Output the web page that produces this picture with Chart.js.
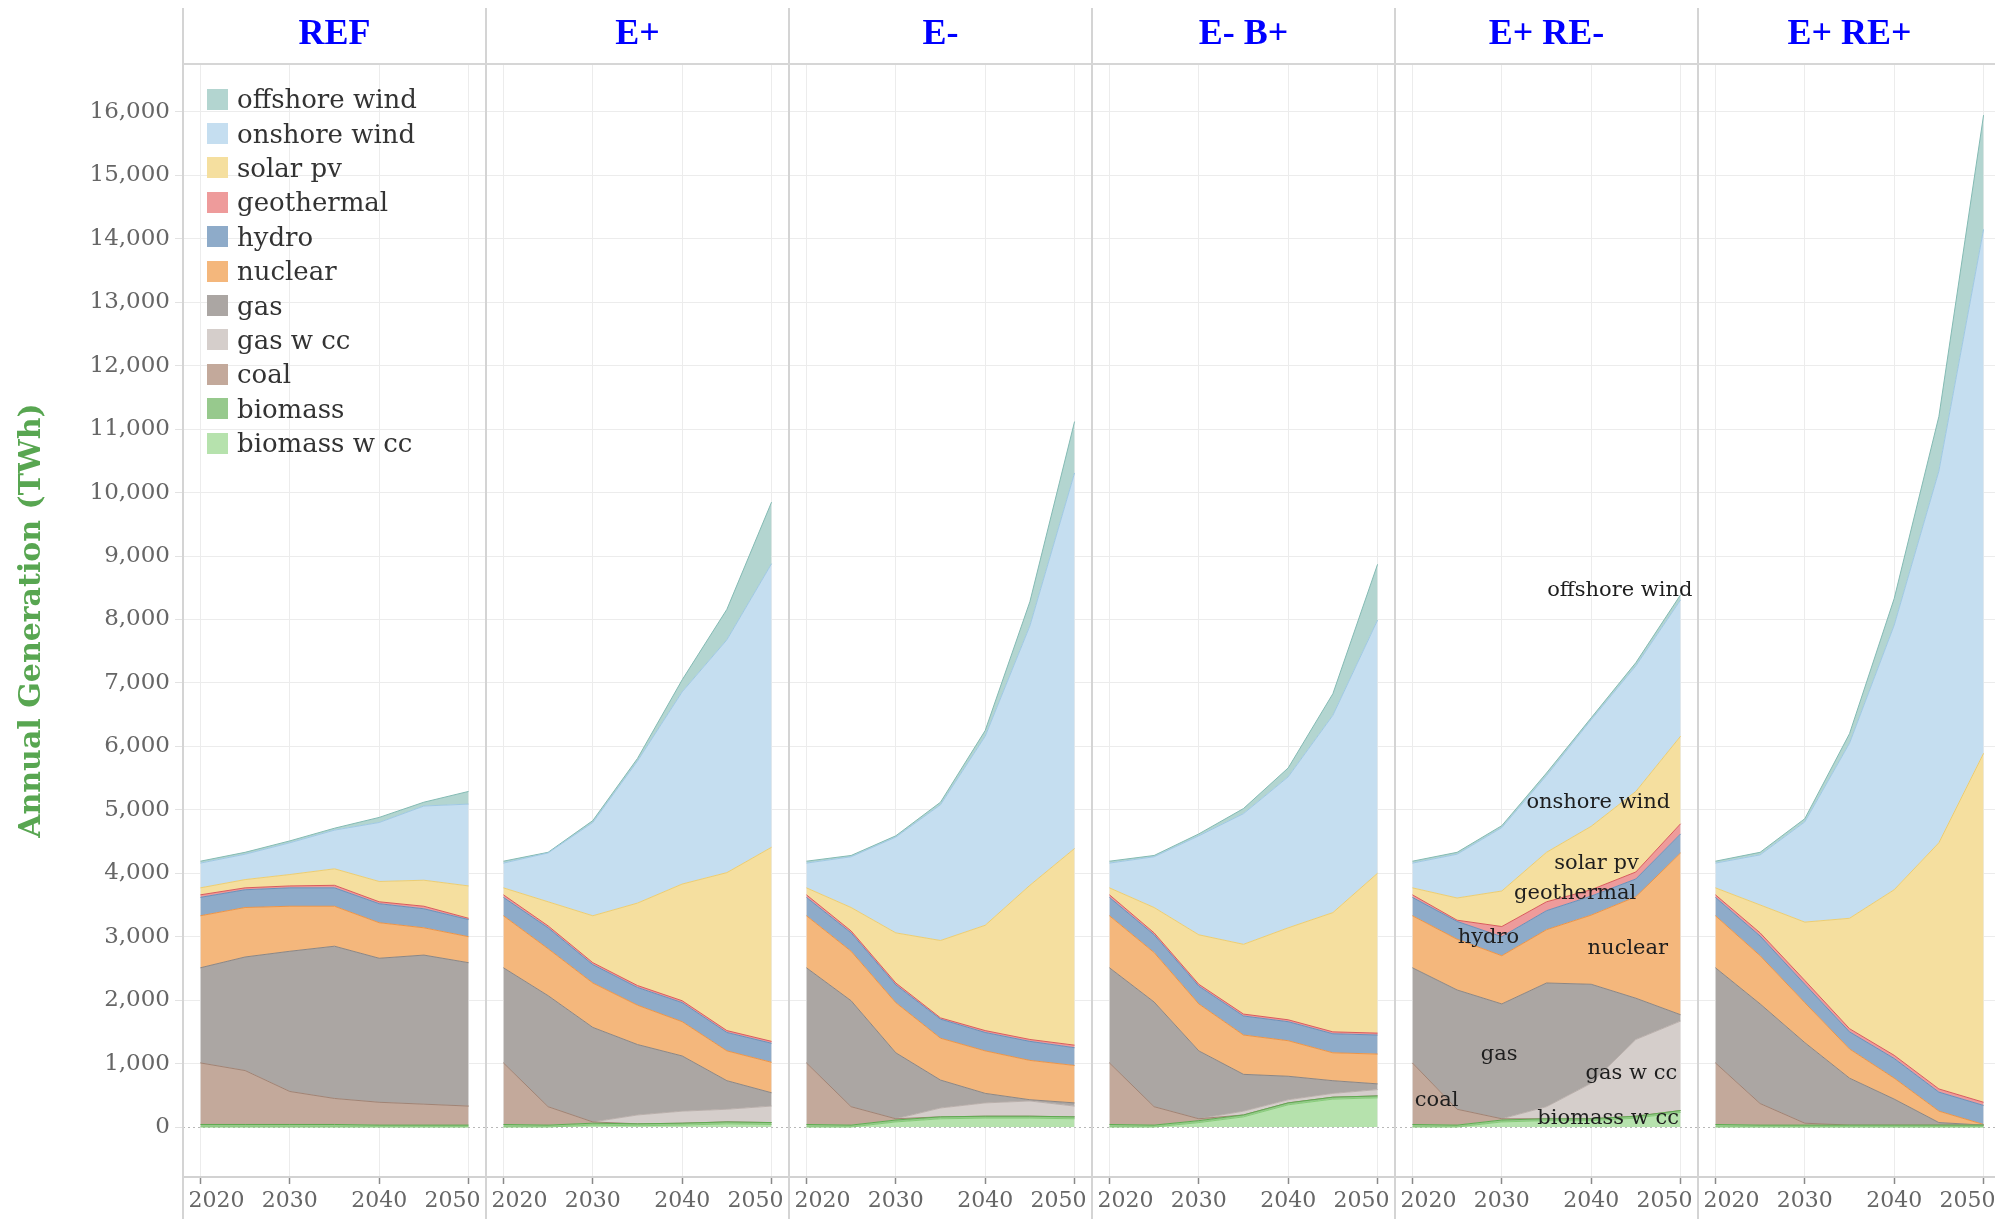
<!DOCTYPE html>
<html>
<head>
<meta charset="utf-8">
<script src="https://cdn.jsdelivr.net/npm/chart.js@4.4.1/dist/chart.umd.min.js"></script>
<style>
  html, body { margin:0; padding:0; background:#fff; width:1995px; height:1219px; overflow:hidden; position:relative; }
  canvas { position:absolute; top:0; }
  .vline { position:absolute; top:8px; height:1211px; width:2px; background:#d4d4d4; z-index:5; }
  .hline { position:absolute; top:63px; height:2px; left:183px; width:1812px; background:#d6d6d6; z-index:5; }
  #legend { position:absolute; left:207px; top:82px; font-family:'DejaVu Serif', serif; font-size:26px; color:#333; z-index:6; }
  #legend .row { height:34.4px; display:flex; align-items:center; white-space:nowrap; }
  #legend .sw { width:21px; height:21px; margin-right:9px; flex:none; }
</style>
</head>
<body>
<div id="legend"></div>
<script>
// ---------- data ----------
const years = [2020, 2025, 2030, 2035, 2040, 2045, 2050];
const scenarios = ['REF', 'E+', 'E-', 'E- B+', 'E+ RE-', 'E+ RE+'];
// stacking order, bottom to top
const seriesNames = ['biomass w cc', 'biomass', 'coal', 'gas w cc', 'gas', 'nuclear', 'hydro', 'geothermal', 'solar pv', 'onshore wind', 'offshore wind'];
const xTickYears = [2020, 2030, 2040, 2050];
const yTickValues = [0, 1000, 2000, 3000, 4000, 5000, 6000, 7000, 8000, 9000, 10000, 11000, 12000, 13000, 14000, 15000, 16000];

// rows follow seriesNames (TWh)
const dataREF = [
  [0, 0, 0, 0, 0, 0, 0],
  [40, 40, 40, 40, 30, 30, 30],
  [970, 850, 520, 410, 360, 330, 300],
  [0, 0, 0, 0, 0, 0, 0],
  [1500, 1790, 2210, 2400, 2270, 2350, 2260],
  [820, 780, 710, 630, 560, 430, 410],
  [290, 280, 290, 290, 300, 300, 270],
  [40, 30, 30, 40, 30, 40, 20],
  [110, 130, 180, 260, 320, 410, 510],
  [390, 400, 500, 610, 930, 1170, 1290],
  [30, 30, 30, 30, 80, 60, 200]
];
const dataEplus = [
  [0, 0, 30, 20, 30, 50, 40],
  [40, 30, 30, 30, 30, 30, 30],
  [970, 290, 20, 0, 0, 0, 0],
  [0, 0, 0, 140, 190, 200, 260],
  [1500, 1750, 1490, 1110, 870, 450, 210],
  [820, 740, 700, 620, 540, 470, 480],
  [290, 330, 290, 280, 300, 290, 300],
  [40, 30, 30, 30, 30, 30, 30],
  [110, 380, 740, 1300, 1840, 2490, 3060],
  [390, 770, 1470, 2240, 3030, 3670, 4470],
  [30, 10, 30, 40, 190, 480, 970]
];
const dataEminus = [
  [0, 0, 80, 130, 140, 140, 130],
  [40, 30, 30, 30, 30, 30, 30],
  [970, 290, 20, 0, 0, 0, 0],
  [0, 0, 0, 140, 210, 240, 170],
  [1500, 1670, 1040, 440, 150, 20, 50],
  [820, 780, 790, 660, 670, 620, 590],
  [290, 290, 280, 300, 290, 300, 280],
  [40, 30, 30, 20, 30, 30, 40],
  [110, 370, 790, 1220, 1660, 2430, 3100],
  [390, 800, 1510, 2140, 2980, 4090, 5920],
  [30, 20, 20, 40, 90, 380, 810]
];
const dataEminusBplus = [
  [0, 0, 70, 160, 350, 440, 460],
  [40, 30, 30, 30, 30, 30, 30],
  [970, 290, 30, 0, 0, 0, 0],
  [0, 0, 0, 60, 50, 60, 100],
  [1500, 1650, 1070, 580, 370, 200, 90],
  [820, 780, 740, 620, 560, 440, 470],
  [290, 280, 280, 300, 300, 300, 300],
  [40, 30, 30, 30, 30, 30, 30],
  [110, 400, 780, 1100, 1450, 1880, 2520],
  [390, 800, 1560, 2060, 2380, 3110, 3990],
  [30, 20, 30, 80, 140, 340, 880]
];
const dataEplusREminus = [
  [0, 0, 80, 100, 100, 140, 230],
  [40, 30, 30, 30, 30, 30, 30],
  [970, 250, 20, 0, 0, 0, 0],
  [0, 0, 0, 190, 560, 1210, 1410],
  [1500, 1880, 1810, 1950, 1560, 650, 100],
  [820, 800, 760, 840, 1090, 1600, 2550],
  [290, 280, 300, 300, 300, 280, 300],
  [40, 20, 160, 140, 100, 110, 160],
  [110, 350, 560, 780, 1000, 1270, 1380],
  [390, 690, 1000, 1210, 1680, 1980, 2150],
  [30, 30, 30, 40, 30, 50, 80]
];
const dataEplusREplus = [
  [0, 0, 0, 0, 0, 0, 0],
  [40, 30, 30, 30, 30, 30, 30],
  [970, 340, 30, 0, 0, 0, 0],
  [0, 0, 0, 0, 0, 0, 0],
  [1500, 1570, 1270, 740, 410, 40, 0],
  [820, 760, 630, 460, 330, 180, 10],
  [290, 310, 290, 270, 310, 300, 300],
  [40, 50, 60, 50, 50, 50, 50],
  [110, 440, 920, 1740, 2610, 3880, 5500],
  [390, 790, 1580, 2760, 4170, 5860, 8260],
  [30, 40, 50, 150, 420, 860, 1800]
];
const panelData = [dataREF, dataEplus, dataEminus, dataEminusBplus, dataEplusREminus, dataEplusREplus];

// in-panel labels of the "E+ RE-" panel (year, TWh)
const annotText  = ['offshore wind', 'onshore wind', 'solar pv', 'geothermal', 'hydro', 'nuclear', 'gas', 'gas w cc', 'coal', 'biomass w cc'];
const annotYear  = [2043.2, 2040.8, 2040.6, 2038.2, 2028.5, 2044.1, 2029.7, 2044.5, 2022.7, 2041.9];
const annotValue = [8450, 5110, 4160, 3680, 2980, 2810, 1150, 850, 410, 130];

// ---------- styles ----------
const fillColors   = ['#b6e2ad', '#97c98d', '#c3a99b', '#d5cecb', '#aba6a3', '#f4b77c', '#8eabc9', '#ee9b9b', '#f5df9f', '#c5def0', '#b3d5d0'];
const borderColors = ['#86cc78', '#5faa50', '#a08374', '#b8aeaa', '#8c8683', '#eb9448', '#6a8fb8', '#d95c5c', '#ebcd73', '#9fc8e3', '#83bab3'];
const panelLeft = [183, 486, 789, 1092, 1395, 1698];
const panelWidth = 303;
const edgeLabelShift = 16;
const serif = "'DejaVu Serif', serif";

// ---------- legend (HTML) ----------
const legendEl = document.getElementById('legend');
for (let k = seriesNames.length - 1; k >= 0; k--) {
  const row = document.createElement('div');
  row.className = 'row';
  const sw = document.createElement('span');
  sw.className = 'sw';
  sw.style.background = fillColors[k];
  const tx = document.createElement('span');
  tx.textContent = seriesNames[k];
  row.appendChild(sw); row.appendChild(tx);
  legendEl.appendChild(row);
}

// ---------- frame ----------
panelLeft.forEach(l => {
  const v = document.createElement('div');
  v.className = 'vline';
  v.style.left = (l - 1) + 'px';
  document.body.appendChild(v);
});
const h = document.createElement('div');
h.className = 'hline';
document.body.appendChild(h);

// ---------- plugins ----------
const zeroLine = {
  id: 'zeroLine',
  beforeDatasetsDraw(chart) {
    const {ctx, chartArea, scales} = chart;
    const py = Math.round(scales.y.getPixelForValue(0)) + 0.5;
    ctx.save();
    ctx.strokeStyle = '#b8b8b8';
    ctx.lineWidth = 1;
    ctx.setLineDash([2, 3]);
    ctx.beginPath();
    ctx.moveTo(chartArea.left, py);
    ctx.lineTo(chartArea.right, py);
    ctx.stroke();
    ctx.restore();
  }
};
// keep first / last year labels inside their panel
const edgeLabels = {
  id: 'edgeLabels',
  beforeDraw(chart) {
    const s = chart.scales.x;
    if (!s || !s.getLabelItems) return;
    const items = s.getLabelItems(chart.chartArea);
    if (!items || !items.length || items._shifted) return;
    items._shifted = true;
    const a = items[0].options && items[0].options.translation;
    const b = items[items.length - 1].options && items[items.length - 1].options.translation;
    if (a) a[0] += edgeLabelShift;
    if (b) b[0] -= edgeLabelShift;
  }
};
const annot = {
  id: 'annot',
  afterDatasetsDraw(chart, args, opts) {
    if (!opts || !opts.show) return;
    const {ctx, scales} = chart;
    ctx.save();
    ctx.font = "21px 'DejaVu Serif', serif";
    ctx.fillStyle = '#1e1e1e';
    ctx.textAlign = 'center';
    ctx.textBaseline = 'middle';
    annotText.forEach((t, i) => {
      ctx.fillText(t, scales.x.getPixelForValue(annotYear[i]), scales.y.getPixelForValue(annotValue[i]));
    });
    ctx.restore();
  }
};

// ---------- panels ----------
function makePanel(i) {
  const first = i === 0;
  const left = first ? 0 : panelLeft[i] - 20;
  const width = first ? panelLeft[0] + panelWidth + 20 : panelWidth + 40;
  const canvas = document.createElement('canvas');
  canvas.width = width;
  canvas.height = 1219;
  canvas.style.left = left + 'px';
  canvas.style.width = width + 'px';
  canvas.style.height = '1219px';
  document.body.appendChild(canvas);

  const d = panelData[i];
  const datasets = seriesNames.map((name, k) => ({
    label: name,
    data: years.map((yr, j) => ({x: yr, y: d[k][j]})),
    backgroundColor: fillColors[k],
    borderColor: borderColors[k],
    borderWidth: 1,
    fill: k === 0 ? 'origin' : '-1',
    pointRadius: 0,
    tension: 0
  }));

  new Chart(canvas, {
    type: 'line',
    data: {datasets},
    plugins: [zeroLine, edgeLabels, annot],
    options: {
      responsive: false,
      animation: false,
      devicePixelRatio: 1,
      layout: {padding: {left: first ? 0 : 20, right: 20, top: 0, bottom: 0}},
      plugins: {
        legend: {display: false},
        tooltip: {enabled: false},
        title: {
          display: true, text: scenarios[i], fullSize: false, color: '#0000ff',
          font: {family: "'Liberation Serif', serif", size: 36, weight: 'bold', lineHeight: 1.2},
          padding: {top: 13.4, bottom: 7.4}
        },
        annot: {show: i === 4}
      },
      scales: {
        x: {
          type: 'linear', min: 2018.05, max: 2051.95,
          afterBuildTicks: s => { s.ticks = xTickYears.map(v => ({value: v})); },
          afterFit: s => { s.height = 42; s.paddingLeft = 0; s.paddingRight = 0; },
          ticks: {
            callback: v => String(v), autoSkip: false, maxRotation: 0,
            font: {family: serif, size: 22}, color: '#666', padding: 4
          },
          grid: {color: '#ececec', lineWidth: 1, tickColor: '#888', tickLength: 7, tickWidth: 1.5},
          border: {display: true, color: '#d2d2d2', width: 2}
        },
        y: {
          type: 'linear', stacked: true, min: -788, max: 16756,
          afterBuildTicks: s => { s.ticks = yTickValues.map(v => ({value: v})); },
          afterFit: s => { s.width = first ? 183 : 0; s.paddingTop = 0; s.paddingBottom = 0; },
          ticks: {
            display: first, callback: v => Number(v).toLocaleString('en-US'),
            font: {family: serif, size: 23}, color: '#666', padding: 5
          },
          grid: {
            color: c => (c.tick && c.tick.value === 0) ? 'rgba(0,0,0,0)' : '#ececec',
            drawTicks: first, tickLength: 8, tickColor: '#e2e2e2'
          },
          border: {display: false},
          title: {
            display: first, text: 'Annual Generation (TWh)', color: '#58a651',
            font: {family: serif, size: 30, weight: 'bold', lineHeight: 1.2},
            padding: {top: 14, bottom: 0}
          }
        }
      }
    }
  });
}
scenarios.forEach((_, i) => makePanel(i));
</script>
</body>
</html>
